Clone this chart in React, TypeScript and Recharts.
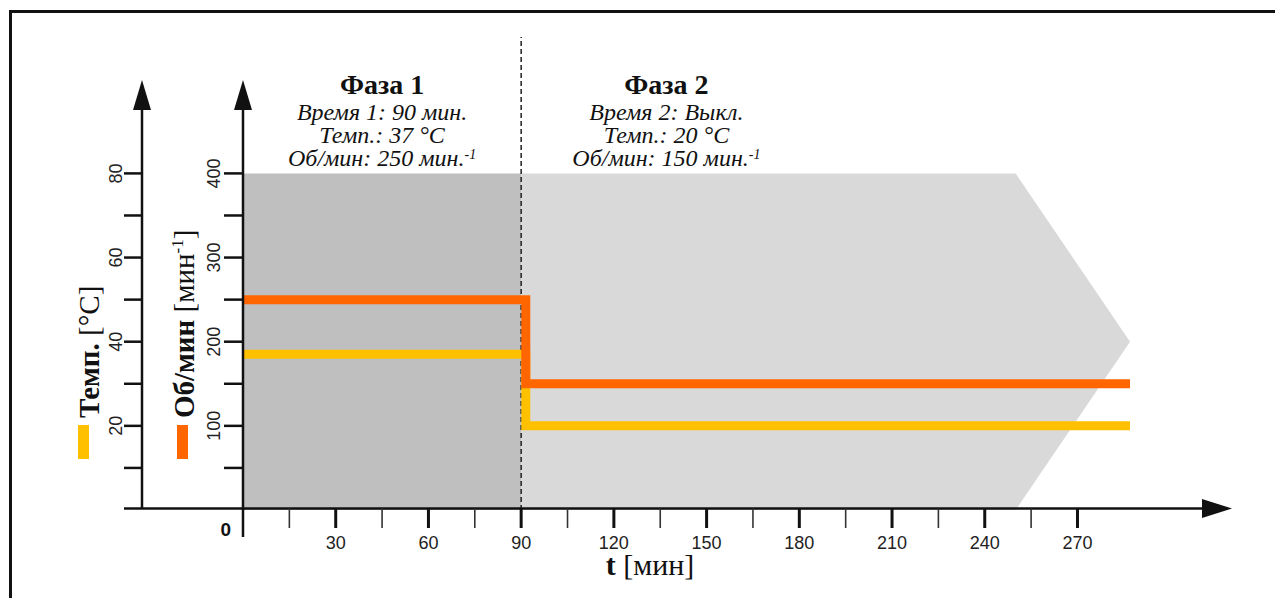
import React from 'react';
import {
    ComposedChart,
    Line,
    XAxis,
    YAxis,
    ReferenceArea,
    ReferenceLine,
    ReferenceDot,
} from 'recharts';

// step profile (time in minutes)
const times = [0, 91.5, 287];
const tempValues = [37, 20, 20];
const rpmValues = [250, 150, 150];

// axis ticks
const xTicks = [0, 15, 30, 45, 60, 75, 90, 105, 120, 135, 150, 165, 180, 195, 210, 225, 240, 255, 270];
const tempTicks = [10, 20, 30, 40, 50, 60, 70, 80];
const tempTickLabels = [20, 40, 60, 80];
const rpmTicks = [50, 100, 150, 200, 250, 300, 350, 400];
const rpmTickLabels = [100, 200, 300, 400];

// phases
const phaseStarts = [0, 90];
const phaseEnds = [90, 287];
const phase2Shoulder = 250;
const phaseTop = 400;
const phaseLabelCenters = [45, 137];
const phaseTitles = ['Фаза 1', 'Фаза 2'];
const phaseTimeLines = ['Время 1: 90 мин.', 'Время 2: Выкл.'];
const phaseTempLines = ['Темп.: 37 °C', 'Темп.: 20 °C'];
const phaseRpmLines = ['Об/мин: 250 мин.', 'Об/мин: 150 мин.'];
const dividerTop = 562;

const data = times.map((t, i) => ({ t, temp: tempValues[i], rpm: rpmValues[i] }));

const SANS = '"Liberation Sans", Arial, sans-serif';
const SERIF = '"Liberation Serif", "Times New Roman", serif';
const INK = '#111';

const XTick = (props: any) => {
    const { x, y, payload } = props;
    const v = payload.value;
    const top = y - 1.5;
    if (v === 0) {
        return (
            <g>
                <line x1={x} y1={top} x2={x} y2={y + 27} stroke={INK} strokeWidth={2.5} />
                <text x={x - 12} y={y + 26} textAnchor="end" fontFamily={SANS} fontWeight="bold" fontSize={19} fill={INK}>
                    0
                </text>
            </g>
        );
    }
    const major = v % 30 === 0;
    return (
        <g>
            <line x1={x} y1={top} x2={x} y2={y + 18} stroke={major ? INK : '#333'} strokeWidth={major ? 3 : 1.6} />
            {major && (
                <text x={x} y={y + 39} textAnchor="middle" fontFamily={SANS} fontSize={18} fill="#222">
                    {v}
                </text>
            )}
        </g>
    );
};

const makeYTick = (labels: number[], len: number, gap: number) => (props: any) => {
    const { x, y, payload } = props;
    const v = payload.value;
    return (
        <g>
            <line x1={x - len} y1={y} x2={x} y2={y} stroke={INK} strokeWidth={2.5} />
            {labels.includes(v) && (
                <text
                    transform={`translate(${x - gap},${y}) rotate(-90)`}
                    textAnchor="middle"
                    fontFamily={SANS}
                    fontSize={18}
                    fill="#222"
                >
                    {v}
                </text>
            )}
        </g>
    );
};

const TempTick = makeYTick(tempTickLabels, 18, 20);
const RpmTick = makeYTick(rpmTickLabels, 19, 23);

// axis line + arrow + title + legend swatch
const TempAxisDecor = (props: any) => {
    const { x, y, width, height } = props.viewBox;
    const ax = x + width;
    const bottom = y + height;
    return (
        <g>
            <line x1={ax} y1={y + 25} x2={ax} y2={bottom - 1.5} stroke={INK} strokeWidth={2.5} />
            <polygon points={`${ax},${y} ${ax - 9},${y + 30} ${ax + 9},${y + 30}`} fill={INK} />
            <text transform={`translate(${ax - 43},${bottom - 92}) rotate(-90)`} fontFamily={SERIF} fontSize={29} fill={INK}>
                <tspan fontWeight="bold">Темп.</tspan> [°C]
            </text>
            <rect x={ax - 64} y={bottom - 85} width={11} height={34} fill="#FFC000" />
        </g>
    );
};

const RpmAxisDecor = (props: any) => {
    const { x, y, width, height } = props.viewBox;
    const ax = x + width;
    const bottom = y + height;
    return (
        <g>
            <line x1={ax} y1={y + 25} x2={ax} y2={bottom} stroke={INK} strokeWidth={2.5} />
            <polygon points={`${ax},${y} ${ax - 9},${y + 30} ${ax + 9},${y + 30}`} fill={INK} />
            <text transform={`translate(${ax - 49},${bottom - 92}) rotate(-90)`} fontFamily={SERIF} fontSize={29} fill={INK}>
                <tspan fontWeight="bold">Об/мин</tspan> [мин
                <tspan dy={-11} fontSize={17}>-1</tspan>
                <tspan dy={11}>]</tspan>
            </text>
            <rect x={ax - 66} y={bottom - 85} width={11} height={34} fill="#FF6600" />
        </g>
    );
};

const XAxisDecor = (props: any) => {
    const { x, y, width } = props.viewBox;
    const right = x + width;
    const ay = y - 1.5;
    return (
        <g>
            <line x1={x - 119} y1={ay} x2={right - 25} y2={ay} stroke={INK} strokeWidth={2.5} />
            <polygon points={`${right},${ay} ${right - 30},${ay - 9.5} ${right - 30},${ay + 9.5}`} fill={INK} />
            <text x={x + 407} y={y + 65} textAnchor="middle" fontFamily={SERIF} fontSize={30} fill={INK}>
                <tspan fontWeight="bold">t</tspan> [мин]
            </text>
        </g>
    );
};

const Phase2Shape = (props: any) => {
    const { x, y, width, height } = props;
    const shoulder = x + (width * (phase2Shoulder - phaseStarts[1])) / (phaseEnds[1] - phaseStarts[1]);
    const pts = [
        [x, y],
        [shoulder, y],
        [x + width, y + height / 2],
        [shoulder, y + height],
        [x, y + height],
    ];
    return <polygon points={pts.map((p) => p.join(',')).join(' ')} fill="#D9D9D9" />;
};

const makePhaseLabel = (i: number) => (props: any) => {
    const vb = props.viewBox;
    const cx = vb.x + (vb.width || 0) / 2;
    const top = vb.y + (vb.height || 0) / 2;
    return (
        <g fontFamily={SERIF} fill={INK} textAnchor="middle">
            <text x={cx} y={top - 79} fontWeight="bold" fontSize={28}>
                {phaseTitles[i]}
            </text>
            <text x={cx} y={top - 53} fontStyle="italic" fontSize={24}>
                {phaseTimeLines[i]}
            </text>
            <text x={cx} y={top - 30} fontStyle="italic" fontSize={24}>
                {phaseTempLines[i]}
            </text>
            <text x={cx} y={top - 7} fontStyle="italic" fontSize={24}>
                {phaseRpmLines[i]}
                <tspan dy={-7} fontSize={14}>-1</tspan>
            </text>
        </g>
    );
};

const App: React.FC = () => {
    return (
        <div style={{ position: 'absolute', left: 0, top: 0, width: 1275, height: 598, overflow: 'hidden', background: '#fff' }}>
            <div
                style={{
                    position: 'absolute',
                    left: 9,
                    top: 10,
                    width: 1300,
                    height: 700,
                    borderLeft: '3px solid #111',
                    borderTop: '3px solid #111',
                }}
            />
            <div style={{ position: 'absolute', left: 0, top: 0 }}>
                <ComposedChart width={1275} height={598} data={data} margin={{ top: 80, right: 43, bottom: 0, left: 0 }}>
                    <XAxis
                        dataKey="t"
                        type="number"
                        domain={[0, 320]}
                        ticks={xTicks}
                        tick={<XTick />}
                        tickSize={0}
                        tickMargin={0}
                        axisLine={false}
                        tickLine={false}
                        height={88}
                        interval={0}
                        allowDataOverflow
                        label={<XAxisDecor />}
                    />
                    <YAxis
                        yAxisId="rpm"
                        orientation="left"
                        domain={[0, 511]}
                        ticks={rpmTicks}
                        tick={<RpmTick />}
                        tickSize={0}
                        tickMargin={0}
                        axisLine={false}
                        tickLine={false}
                        width={101}
                        interval={0}
                        allowDataOverflow
                        label={<RpmAxisDecor />}
                    />
                    <YAxis
                        yAxisId="temp"
                        orientation="left"
                        domain={[0, 102.2]}
                        ticks={tempTicks}
                        tick={<TempTick />}
                        tickSize={0}
                        tickMargin={0}
                        axisLine={false}
                        tickLine={false}
                        width={142}
                        interval={0}
                        allowDataOverflow
                        label={<TempAxisDecor />}
                    />

                    {/* phase backgrounds */}
                    <ReferenceArea
                        yAxisId="rpm"
                        x1={phaseStarts[0]}
                        x2={phaseEnds[0]}
                        y1={0}
                        y2={phaseTop}
                        fill="#BFBFBF"
                        fillOpacity={1}
                        stroke="none"
                    />
                    <ReferenceArea
                        yAxisId="rpm"
                        x1={phaseStarts[1]}
                        x2={phaseEnds[1]}
                        y1={0}
                        y2={phaseTop}
                        shape={<Phase2Shape />}
                    />

                    {/* phase divider */}
                    <ReferenceLine
                        yAxisId="rpm"
                        segment={[
                            { x: phaseEnds[0], y: 0 },
                            { x: phaseEnds[0], y: dividerTop },
                        ]}
                        ifOverflow="visible"
                        stroke="#222"
                        strokeWidth={1.5}
                        strokeDasharray="5 3"
                    />

                    {/* phase annotations */}
                    {phaseLabelCenters.map((c, i) => (
                        <ReferenceDot
                            key={i}
                            yAxisId="rpm"
                            x={c}
                            y={phaseTop}
                            r={0.5}
                            fill="none"
                            stroke="none"
                            label={makePhaseLabel(i)}
                        />
                    ))}

                    <Line
                        yAxisId="temp"
                        type="stepAfter"
                        dataKey="temp"
                        stroke="#FFC000"
                        strokeWidth={9}
                        strokeLinecap="butt"
                        strokeLinejoin="miter"
                        dot={false}
                        activeDot={false}
                        isAnimationActive={false}
                    />
                    <Line
                        yAxisId="rpm"
                        type="stepAfter"
                        dataKey="rpm"
                        stroke="#FF6600"
                        strokeWidth={9}
                        strokeLinecap="butt"
                        strokeLinejoin="miter"
                        dot={false}
                        activeDot={false}
                        isAnimationActive={false}
                    />
                </ComposedChart>
            </div>
        </div>
    );
};

export default App;
